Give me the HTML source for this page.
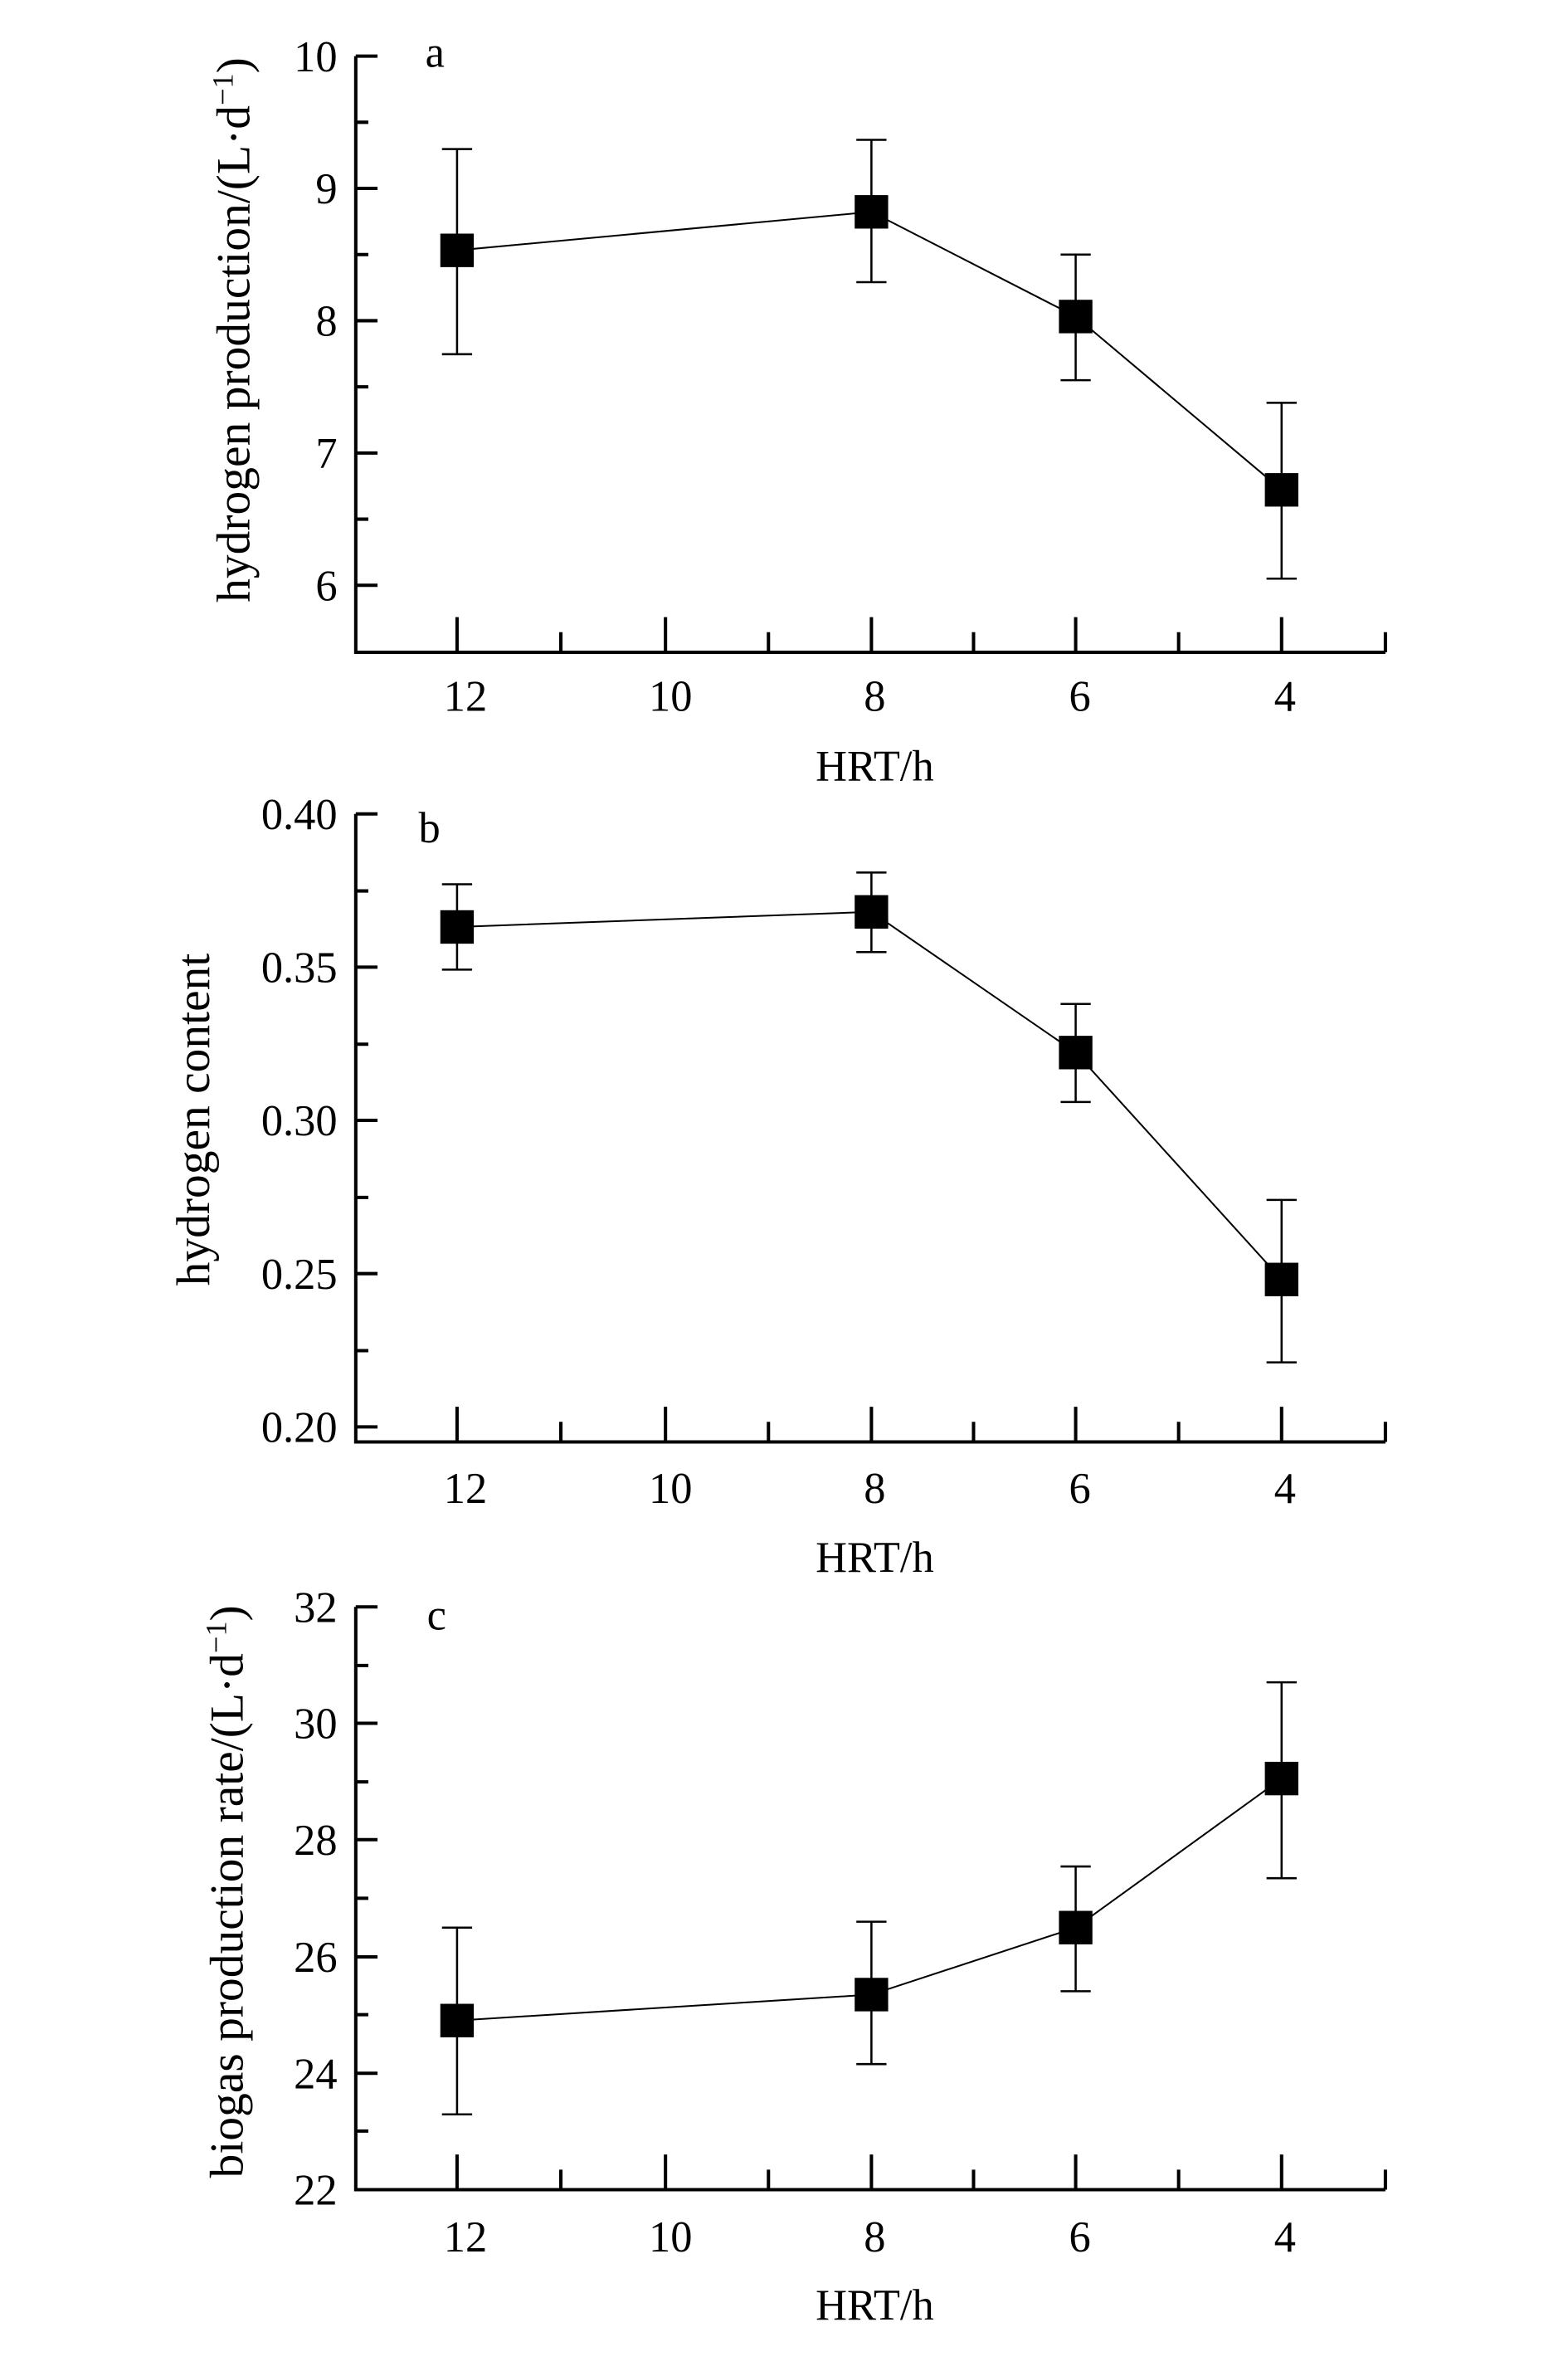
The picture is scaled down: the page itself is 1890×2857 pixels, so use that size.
<!DOCTYPE html>
<html><head><meta charset="utf-8"><style>
html,body{margin:0;padding:0;background:#fff}
svg{display:block}
text{font-family:"Liberation Serif",serif;fill:#000}
</style></head><body>
<svg width="1890" height="2857" viewBox="0 0 1890 2857" xmlns="http://www.w3.org/2000/svg">
<g transform="scale(1.009)">
<g stroke="#000" fill="none">
<!-- Panel a -->
<path d="M425 67 V779 H1655" stroke-width="4"/>
<path d="M425 67h26M425 225h26M425 383h26M425 541h26M425 699h26M425 146h15M425 304h15M425 462h15M425 620h15" stroke-width="4"/>
<path d="M546 779v-42M795 779v-42M1041 779v-42M1285 779v-42M1531 779v-42M670 779v-24M918 779v-24M1163 779v-24M1408 779v-24M1655 779v-24" stroke-width="4"/>
<polyline points="546,299 1041,253 1285,378 1531,585" stroke-width="2"/>
<path d="M546 178V423M528 178h36M528 423h36M1041 167V337M1023 167h36M1023 337h36M1285 304V454M1267 304h36M1267 454h36M1531 481V691M1513 481h36M1513 691h36" stroke-width="2.5"/>
<!-- Panel b -->
<path d="M425 972 V1722 H1655" stroke-width="4"/>
<path d="M425 972h26M425 1155h26M425 1338h26M425 1521h26M425 1704h26M425 1064h15M425 1247h15M425 1430h15M425 1613h15" stroke-width="4"/>
<path d="M546 1722v-42M795 1722v-42M1041 1722v-42M1285 1722v-42M1531 1722v-42M670 1722v-24M918 1722v-24M1163 1722v-24M1408 1722v-24M1655 1722v-24" stroke-width="4"/>
<polyline points="546,1107 1041,1089 1285,1257 1531,1528" stroke-width="2"/>
<path d="M546 1056V1158M528 1056h36M528 1158h36M1041 1042V1137M1023 1042h36M1023 1137h36M1285 1199V1316M1267 1199h36M1267 1316h36M1531 1433V1627M1513 1433h36M1513 1627h36" stroke-width="2.5"/>
<!-- Panel c -->
<path d="M425 1919 V2615 H1655" stroke-width="4"/>
<path d="M425 1919h26M425 2058h26M425 2197h26M425 2337h26M425 2476h26M425 1989h15M425 2128h15M425 2267h15M425 2406h15M425 2545h15" stroke-width="4"/>
<path d="M546 2615v-42M795 2615v-42M1041 2615v-42M1285 2615v-42M1531 2615v-42M670 2615v-24M918 2615v-24M1163 2615v-24M1408 2615v-24M1655 2615v-24" stroke-width="4"/>
<polyline points="546,2413 1041,2382 1285,2302 1531,2124" stroke-width="2"/>
<path d="M546 2302V2525M528 2302h36M528 2525h36M1041 2295V2465M1023 2295h36M1023 2465h36M1285 2229V2378M1267 2229h36M1267 2378h36M1531 2009V2243M1513 2009h36M1513 2243h36" stroke-width="2.5"/>
</g>
<g fill="#000">
<rect x="526" y="279" width="40" height="40"/><rect x="1021" y="233" width="40" height="40"/><rect x="1265" y="358" width="40" height="40"/><rect x="1511" y="565" width="40" height="40"/>
<rect x="526" y="1087" width="40" height="40"/><rect x="1021" y="1069" width="40" height="40"/><rect x="1265" y="1237" width="40" height="40"/><rect x="1511" y="1508" width="40" height="40"/>
<rect x="526" y="2393" width="40" height="40"/><rect x="1021" y="2362" width="40" height="40"/><rect x="1265" y="2282" width="40" height="40"/><rect x="1511" y="2104" width="40" height="40"/>
</g>
<g font-size="52" text-anchor="end">
<text x="403" y="85">10</text><text x="403" y="243">9</text><text x="403" y="401">8</text><text x="403" y="559">7</text><text x="403" y="717">6</text>
<text x="403" y="990">0.40</text><text x="403" y="1173">0.35</text><text x="403" y="1356">0.30</text><text x="403" y="1539">0.25</text><text x="403" y="1722">0.20</text>
<text x="403" y="1937">32</text><text x="403" y="2076">30</text><text x="403" y="2215">28</text><text x="403" y="2355">26</text><text x="403" y="2494">24</text><text x="403" y="2633">22</text>
</g>
<g font-size="52" text-anchor="middle">
<text x="556" y="849">12</text><text x="801" y="849">10</text><text x="1045" y="849">8</text><text x="1290" y="849">6</text><text x="1535" y="849">4</text>
<text x="1045" y="932">HRT/h</text>
<text x="556" y="1795">12</text><text x="801" y="1795">10</text><text x="1045" y="1795">8</text><text x="1290" y="1795">6</text><text x="1535" y="1795">4</text>
<text x="1045" y="1877">HRT/h</text>
<text x="556" y="2689">12</text><text x="801" y="2689">10</text><text x="1045" y="2689">8</text><text x="1290" y="2689">6</text><text x="1535" y="2689">4</text>
<text x="1045" y="2770">HRT/h</text>
</g>
<g font-size="52">
<text x="508" y="80">a</text><text x="500" y="1006">b</text><text x="510" y="1946">c</text>
</g>
<g font-size="57">
<text transform="translate(298,394) rotate(-90)" text-anchor="middle">hydrogen production/(L·d<tspan font-size="36" dy="-20">−1</tspan><tspan dy="20">)</tspan></text>
<text transform="translate(250,1337) rotate(-90)" text-anchor="middle">hydrogen content</text>
<text transform="translate(290,2259) rotate(-90)" text-anchor="middle">biogas production rate/(L·d<tspan font-size="36" dy="-20">−1</tspan><tspan dy="20">)</tspan></text>
</g>
</g>
</svg>
</body></html>
